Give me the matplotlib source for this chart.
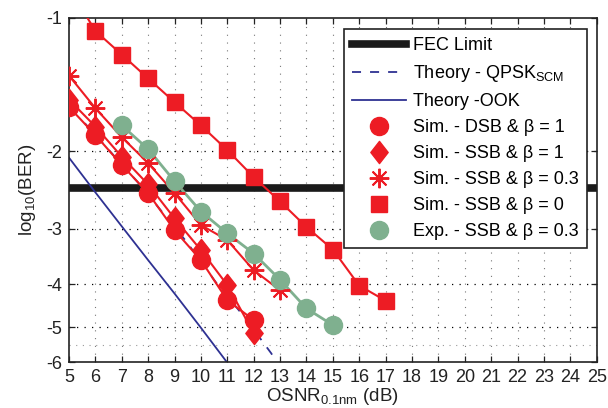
import numpy as np
import matplotlib.pyplot as plt
from matplotlib.path import Path
from matplotlib.ticker import FixedLocator, NullLocator

plt.rcParams['font.family'] = ['Liberation Sans', 'DejaVu Sans']
plt.rcParams['mathtext.fontset'] = 'custom'
plt.rcParams['mathtext.rm'] = 'Liberation Sans'
plt.rcParams['mathtext.it'] = 'Liberation Sans:italic'

# ---------------------------------------------------------------------------
# Data (log10(BER))
# ---------------------------------------------------------------------------
fec_limit = -2.42

qpsk_osnr = [5.6, 7.6, 9.46, 10.55, 11.64, 12.67, 12.85]
qpsk_logber = [-1.73, -2.35, -3.21, -3.95, -4.74, -5.74, -6.0]

ook_osnr = [5.0, 6.0, 7.0, 8.0, 9.0, 10.0, 10.98]
ook_logber = [-2.07, -2.48, -2.96, -3.53, -4.20, -5.02, -6.0]

dsb_b1_osnr = [5, 6, 7, 8, 9, 10, 11, 12]
dsb_b1_logber = [-1.59, -1.84, -2.15, -2.49, -3.02, -3.53, -4.35, -4.82]

ssb_b1_osnr = [5, 6, 7, 8, 9, 10, 11, 12]
ssb_b1_logber = [-1.53, -1.76, -2.06, -2.38, -2.84, -3.35, -4.02, -5.16]

ssb_b03_osnr = [5, 6, 7, 8, 9, 10, 11, 12, 13]
ssb_b03_logber = [-1.35, -1.60, -1.86, -2.13, -2.49, -2.94, -3.18, -3.72, -4.13]

ssb_b0_osnr = [6, 7, 8, 9, 10, 11, 12, 13, 14, 15, 16, 17]
ssb_b0_logber = [-1.07, -1.21, -1.37, -1.55, -1.75, -1.99, -2.29, -2.60,
                 -2.97, -3.34, -4.03, -4.36]
# fitted line continues above the first point
ssb_b0_line_osnr = [5.7] + ssb_b0_osnr
ssb_b0_line_logber = [-1.0] + ssb_b0_logber

exp_b03_osnr = [7, 8, 9, 10, 11, 12, 13, 14, 15]
exp_b03_logber = [-1.75, -1.98, -2.34, -2.74, -3.07, -3.41, -3.91, -4.54, -4.95]

y_ticks = [-1, -2, -3, -4, -5, -6]
x_ticks = list(range(5, 26))

RED = "#ed1c24"
GREEN = "#7fb08f"
BLUE = "#2e3192"
INK = "#222222"

# MATLAB-like diamond: taller than wide
DIAMOND = Path([(0, 1), (0.78, 0), (0, -1), (-0.78, 0), (0, 1)],
               [Path.MOVETO, Path.LINETO, Path.LINETO, Path.LINETO,
                Path.CLOSEPOLY])


def q(vals):
    # plotted on a log scale of -log10(BER)
    return -np.asarray(vals, dtype=float)


fig = plt.figure(figsize=(6.08, 4.08), dpi=100)
ax = fig.add_axes([0.1135, 0.1127, 0.9814 - 0.1135, 0.9559 - 0.1127])

ax.set_yscale('log')
ax.set_xlim(5, 25)
ax.set_ylim(6, 1)

# grid
for xv in x_ticks[1:-1]:
    ax.axvline(xv, color="#777777", lw=0.8, ls=(0, (1, 6)), zorder=0)
for yv in y_ticks[1:-1]:
    ax.axhline(-yv, color="black", lw=0.9, ls=(0, (1, 5)), zorder=0)
ax.axhline(5.5, color="#999999", lw=0.8, ls=(0, (1, 5)), zorder=0)

h_fec = ax.axhline(-fec_limit, color="#1a1a1a", lw=5.5, zorder=1)
h_qpsk, = ax.plot(qpsk_osnr, q(qpsk_logber), color=BLUE, lw=1.3,
                  ls=(0, (5, 5)), zorder=2)
h_ook, = ax.plot(ook_osnr, q(ook_logber), color=BLUE, lw=1.3, zorder=2)

ax.plot(dsb_b1_osnr, q(dsb_b1_logber), color=RED, lw=1.5, zorder=3)
ax.plot(ssb_b1_osnr, q(ssb_b1_logber), color=RED, lw=1.5, zorder=3)
ax.plot(ssb_b03_osnr, q(ssb_b03_logber), color=RED, lw=1.5, zorder=3)
ax.plot(ssb_b0_line_osnr, q(ssb_b0_line_logber), color=RED, lw=1.5, zorder=3)
ax.plot(exp_b03_osnr, q(exp_b03_logber), color=GREEN, lw=2.0, zorder=3)

h_dsb, = ax.plot(dsb_b1_osnr, q(dsb_b1_logber), ls='none', marker='o',
                 ms=13, color=RED, mec=RED, zorder=4)
h_ssb1, = ax.plot(ssb_b1_osnr, q(ssb_b1_logber), ls='none', marker=DIAMOND,
                  ms=16, color=RED, mec=RED, zorder=4)
h_ssb03, = ax.plot(ssb_b03_osnr, q(ssb_b03_logber), ls='none',
                   marker=(8, 2, 0), ms=14, mew=1.4, color=RED, zorder=4)
h_ssb0, = ax.plot(ssb_b0_osnr, q(ssb_b0_logber), ls='none', marker='s',
                  ms=11, color=RED, mec=RED, zorder=4)
h_exp, = ax.plot(exp_b03_osnr, q(exp_b03_logber), ls='none', marker='o',
                 ms=13, color=GREEN, mec=GREEN, zorder=5)

ax.yaxis.set_major_locator(FixedLocator([-v for v in y_ticks]))
ax.yaxis.set_minor_locator(NullLocator())
ax.set_yticklabels([str(v) for v in y_ticks])
ax.set_xticks(x_ticks)
ax.set_xticklabels([str(v) for v in x_ticks])

ax.tick_params(direction='in', top=True, right=True, length=4, width=0.9,
               labelsize=13, pad=5, colors=INK)
for sp in ax.spines.values():
    sp.set_linewidth(1.2)
    sp.set_color(INK)

ax.set_xlabel(r"OSNR$_{0.1\mathrm{nm}}$ (dB)", fontsize=13.5, labelpad=0,
              color=INK)
ax.set_ylabel(r"log$_{10}$(BER)", fontsize=13.5, labelpad=6, color=INK)

leg = ax.legend(
    [h_fec, h_qpsk, h_ook, h_dsb, h_ssb1, h_ssb03, h_ssb0, h_exp],
    ["FEC Limit", r"Theory - QPSK$_{\mathrm{SCM}}$", "Theory -OOK",
     "Sim. - DSB & β = 1", "Sim. - SSB & β = 1", "Sim. - SSB & β = 0.3",
     "Sim. - SSB & β = 0", "Exp. - SSB & β = 0.3"],
    loc='upper right', bbox_to_anchor=(0.982, 0.968), borderaxespad=0,
    fontsize=13, numpoints=1, handlelength=3.0, handletextpad=0.4,
    labelspacing=0.5, fancybox=False, framealpha=1, edgecolor=INK,
    borderpad=0.45,
)
leg.get_frame().set_linewidth(1.2)
leg.set_zorder(10)

fig.savefig("out.png", dpi=100)
